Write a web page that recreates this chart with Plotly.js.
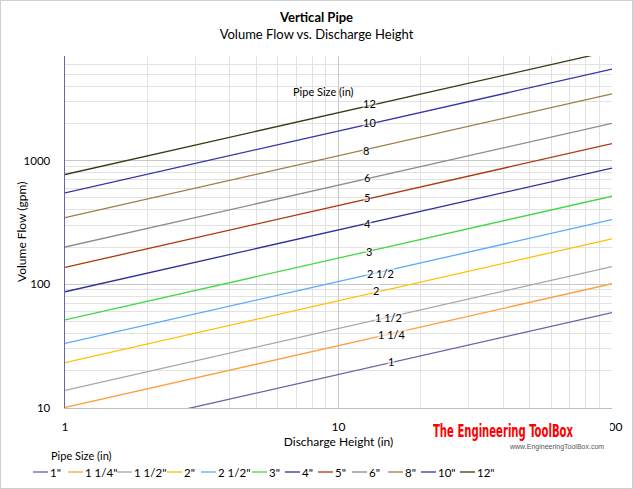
<!DOCTYPE html>
<html>
<head>
<meta charset="utf-8">
<script src="https://cdn.plot.ly/plotly-3.0.1.min.js"></script>
<style>
  html, body { margin: 0; padding: 0; background: #fff; }
  #wrap { position: relative; width: 633px; height: 489px; overflow: hidden; }
  #chart { width: 633px; height: 489px; }
  #frame { position: absolute; left: 0; top: 0; width: 633px; height: 489px;
           box-sizing: border-box; border: 1px solid #cfcfcf; pointer-events: none; }
  #mark { position: absolute; left: 430px; top: 419px; width: 180px; height: 35px;
          background: #fff; }
  #markTitle { position: absolute; left: 3px; top: 2px; white-space: nowrap;
               font-family: "DejaVu Sans Condensed", "DejaVu Sans", sans-serif;
               font-weight: bold; font-size: 18px; line-height: 20px; color: #ff0000;
               transform-origin: 0 0; }
  #markUrl { position: absolute; left: 80px; top: 24px; white-space: nowrap;
             font-family: Arial, "Liberation Sans", sans-serif; font-size: 7px;
             line-height: 8px; color: #555; }
</style>
</head>
<body>
<div id="wrap">
  <div id="chart"></div>
  <div id="mark"><span id="markTitle">The Engineering ToolBox</span><span id="markUrl">www.EngineeringToolBox.com</span></div>
  <div id="frame"></div>
</div>
<script>
// Discharge height (in) at the two ends of each line
const heights = [1, 100];

// Volume flow (gpm) for each pipe size
const flow_1     = [5.9, 59];
const flow_1_25  = [10.1, 101];
const flow_1_5   = [13.9, 139];
const flow_2     = [23.3, 233];
const flow_2_5   = [33.3, 333];
const flow_3     = [51.5, 515];
const flow_4     = [87, 870];
const flow_5     = [137, 1370];
const flow_6     = [200, 2000];
const flow_8     = [346, 3460];
const flow_10    = [548, 5480];
const flow_12    = [771, 7710];

const pipeNames  = ['1"', '1 1/4"', '1 1/2"', '2"', '2 1/2"', '3"', '4"', '5"', '6"', '8"', '10"', '12"'];
const lineLabels = ['1', '1 1/4', '1 1/2', '2', '2 1/2', '3', '4', '5', '6', '8', '10', '12'];
const flows = [flow_1, flow_1_25, flow_1_5, flow_2, flow_2_5, flow_3,
               flow_4, flow_5, flow_6, flow_8, flow_10, flow_12];

const colors = ['#6464a6', '#ffa040', '#a6a6a6', '#ffc000', '#5aa8ff', '#44d844',
                '#2f2f9a', '#b0360c', '#8c8c8c', '#a07a48', '#3434a8', '#3a3a12'];

// In-plot label positions (paper fractions)
const labelPos = [
  [0.5960, 0.1319], [0.5978, 0.2085], [0.5905, 0.2567], [0.5686, 0.3333],
  [0.5759, 0.3816], [0.5558, 0.4440], [0.5539, 0.5234], [0.5521, 0.5972],
  [0.5521, 0.6539], [0.5503, 0.7305], [0.5558, 0.8099], [0.5558, 0.8638]
];

// Legend entry left edges (pixels from the figure's left side)
const legendLeft = [33, 68, 117, 167, 201, 252, 285, 318, 352, 388, 421, 460];

const FONT = 'Lato, "Open Sans", sans-serif';
const M = { l: 65, r: 21, t: 56, b: 81 };
const PW = 633 - M.l - M.r;
const PH = 489 - M.t - M.b;
const px2x = px => (px - M.l) / PW;
const py2y = py => (489 - M.b - py) / PH;

const traces = flows.map((q, i) => ({
  type: 'scatter',
  mode: 'lines',
  x: heights,
  y: q,
  name: pipeNames[i],
  line: { color: colors[i], width: 1.3 },
  showlegend: false,
  hoverinfo: 'x+y+name'
}));

const annotations = [];
const shapes = [];

// Line labels
lineLabels.forEach((lab, i) => {
  annotations.push({
    xref: 'paper', yref: 'paper', x: labelPos[i][0], y: labelPos[i][1],
    xanchor: 'center', yanchor: 'middle',
    text: lab, showarrow: false, font: { family: FONT, size: 11, color: '#000' },
    bgcolor: 'rgba(255,255,255,0.55)', borderpad: 0
  });
});

annotations.push({
  xref: 'paper', yref: 'paper', x: 0.4717, y: 0.898, xanchor: 'center', yanchor: 'middle',
  text: 'Pipe Size (in)', showarrow: false, font: { family: FONT, size: 11, color: '#000' }
});

// Y axis title
annotations.push({
  xref: 'paper', yref: 'paper', x: px2x(21), y: 0.5, xanchor: 'center', yanchor: 'middle',
  textangle: -90, text: 'Volume Flow (gpm)', showarrow: false,
  font: { family: FONT, size: 12, color: '#000' }
});

// Legend: title plus one entry (swatch + name) per pipe size
annotations.push({
  xref: 'paper', yref: 'paper', x: px2x(81), y: py2y(455), xanchor: 'center', yanchor: 'middle',
  text: 'Pipe Size (in)', showarrow: false, font: { family: FONT, size: 11, color: '#000' }
});
pipeNames.forEach((n, i) => {
  shapes.push({
    type: 'line', xref: 'paper', yref: 'paper',
    x0: px2x(legendLeft[i]), x1: px2x(legendLeft[i] + 15),
    y0: py2y(472), y1: py2y(472),
    line: { color: colors[i], width: 1.3 }
  });
  annotations.push({
    xref: 'paper', yref: 'paper', x: px2x(legendLeft[i] + 15), y: py2y(472),
    xanchor: 'left', yanchor: 'middle', showarrow: false, text: n,
    font: { family: FONT, size: 11.5, color: '#000' }
  });
});

const layout = {
  width: 633, height: 489,
  margin: M,
  paper_bgcolor: '#fff', plot_bgcolor: '#fff',
  font: { family: FONT, size: 12, color: '#000' },
  title: {
    text: '<b>Vertical Pipe</b><br>Volume Flow vs. Discharge Height',
    xref: 'container', x: 0.5, xanchor: 'center',
    yref: 'container', y: 0.954, yanchor: 'top',
    font: { family: FONT, size: 13, color: '#000' }
  },
  xaxis: {
    type: 'log', range: [0, 2], dtick: 1, tickformat: 'd',
    showgrid: true, gridcolor: '#c8c8c8', gridwidth: 1,
    minor: { showgrid: true, gridcolor: '#e2e2e2', gridwidth: 1, dtick: 'D1' },
    showline: true, linecolor: '#bfbfbf', linewidth: 1,
    ticks: '', ticklabelstandoff: 8, zeroline: false,
    tickfont: { family: FONT, size: 12, color: '#000' },
    title: { text: 'Discharge Height (in)', standoff: 4, font: { family: FONT, size: 12, color: '#000' } }
  },
  yaxis: {
    type: 'log', range: [1, Math.log10(7000)], dtick: 1, tickformat: 'd',
    showgrid: true, gridcolor: '#c8c8c8', gridwidth: 1,
    minor: { showgrid: true, gridcolor: '#e2e2e2', gridwidth: 1, dtick: 'D1' },
    showline: true, linecolor: '#6464a6', linewidth: 1.4,
    ticks: '', ticklabelstandoff: 11, zeroline: false,
    tickfont: { family: FONT, size: 11.5, color: '#000' }
  },
  annotations: annotations,
  shapes: shapes,
  showlegend: false
};

Plotly.newPlot('chart', traces, layout, { displayModeBar: false, staticPlot: true });

// Fit the site mark's title to its box width
const mt = document.getElementById('markTitle');
const w = mt.getBoundingClientRect().width;
if (w > 0) mt.style.transform = 'scaleX(' + (140 / w) + ')';
</script>
</body>
</html>
